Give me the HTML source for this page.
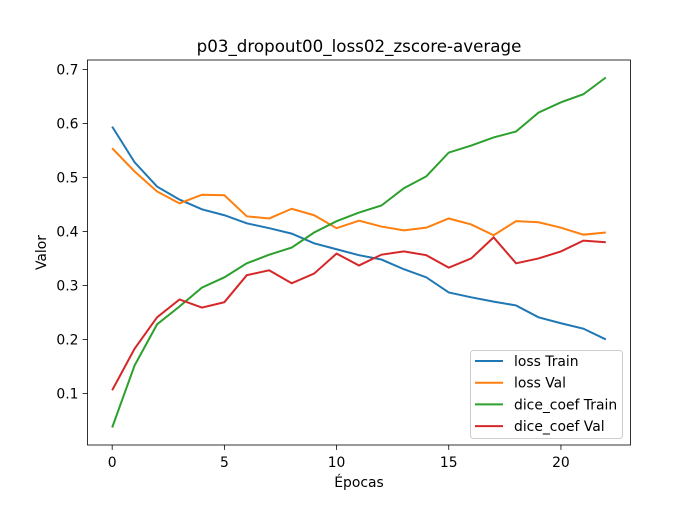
<!DOCTYPE html>
<html><head><meta charset="utf-8"><style>
body{margin:0;background:#fff;}
svg text{font-family:"DejaVu Sans","Liberation Sans",sans-serif;fill:#000;}
</style></head><body>
<svg id="c" width="700" height="500" xmlns="http://www.w3.org/2000/svg"></svg>
<script>
const epochs=[0,1,2,3,4,5,6,7,8,9,10,11,12,13,14,15,16,17,18,19,20,21,22];
const lossTrain=[0.594,0.528,0.483,0.459,0.441,0.430,0.415,0.406,0.396,0.378,0.367,0.356,0.348,0.330,0.315,0.287,0.278,0.270,0.263,0.241,0.230,0.220,0.200];
const lossVal=[0.554,0.511,0.474,0.452,0.468,0.467,0.428,0.424,0.442,0.430,0.406,0.420,0.409,0.402,0.407,0.424,0.413,0.393,0.419,0.417,0.407,0.394,0.398];
const diceTrain=[0.037,0.152,0.228,0.261,0.296,0.315,0.341,0.357,0.370,0.398,0.419,0.435,0.448,0.480,0.502,0.546,0.559,0.574,0.585,0.620,0.639,0.654,0.685];
const diceVal=[0.106,0.183,0.241,0.274,0.259,0.269,0.319,0.328,0.304,0.322,0.359,0.337,0.357,0.363,0.356,0.333,0.350,0.389,0.341,0.350,0.363,0.383,0.380];
const xTicks=[0,5,10,15,20];
const yTicks=[0.1,0.2,0.3,0.4,0.5,0.6,0.7];
const seriesNames=["loss Train","loss Val","dice_coef Train","dice_coef Val"];
const colors=["#1f77b4","#ff7f0e","#2ca02c","#d62728"];
const L=87.5,R=630.5,T=60,B=445;
const all=[...lossTrain,...lossVal,...diceTrain,...diceVal];
let mn=Math.min(...all),mx=Math.max(...all),pad=(mx-mn)*0.05;
const y0=mn-pad,y1=mx+pad;
const xmn=epochs[0],xmx=epochs[epochs.length-1],xp=(xmx-xmn)*0.05;
const X=v=>L+(v-(xmn-xp))/((xmx+xp)-(xmn-xp))*(R-L);
const Y=v=>B-(v-y0)/(y1-y0)*(B-T);
const svg=document.getElementById('c');
const NS="http://www.w3.org/2000/svg";
function mk(t,a,txt){const e=document.createElementNS(NS,t);for(const k in a)e.setAttribute(k,a[k]);if(txt!==undefined)e.textContent=txt;svg.appendChild(e);return e;}
let e;
e=mk('rect',{x:L,y:T,width:R-L,height:B-T,fill:'none',stroke:'#000','stroke-width':0.8});


xTicks.forEach(t=>{const x=X(t);
 e=mk('line',{x1:x,x2:x,y1:B,y2:B+4.9,stroke:'#000','stroke-width':0.8});
 
 
 e=mk('text',{x:x,y:B+22,'text-anchor':'middle','font-size':13.9},String(t));
 
 });
yTicks.forEach(t=>{const y=Y(t);
 e=mk('line',{x1:L-4.9,x2:L,y1:y,y2:y,stroke:'#000','stroke-width':0.8});
 
 
 e=mk('text',{x:L-9,y:y+5,'text-anchor':'end','font-size':13.9},t.toFixed(1));
 
 });
[lossTrain,lossVal,diceTrain,diceVal].forEach((s,i)=>{
 e=mk('polyline',{points:s.map((v,j)=>X(epochs[j])+','+Y(v)).join(' '),fill:'none',stroke:colors[i],'stroke-width':2});
 
 });
e=mk('text',{x:(L+R)/2,y:52,'text-anchor':'middle','font-size':16.7},'p03_dropout00_loss02_zscore-average');


e=mk('text',{x:(L+R)/2,y:487,'text-anchor':'middle','font-size':13.9},'Épocas');


e=mk('text',{x:46,y:(T+B)/2,'text-anchor':'middle','font-size':13.9,transform:`rotate(-90 46 ${(T+B)/2})`},'Valor');


e=mk('rect',{x:470.5,y:350.5,width:152,height:88,rx:3,fill:'#fff','fill-opacity':0.8,stroke:'#ccc','stroke-width':1});


seriesNames.forEach((n,i)=>{const y=361+i*21.7;
 e=mk('line',{x1:475,x2:503,y1:y,y2:y,stroke:colors[i],'stroke-width':2});
 
 
 e=mk('text',{x:514,y:y+5,'font-size':13.9},n);
 
 });
</script>
</body></html>
